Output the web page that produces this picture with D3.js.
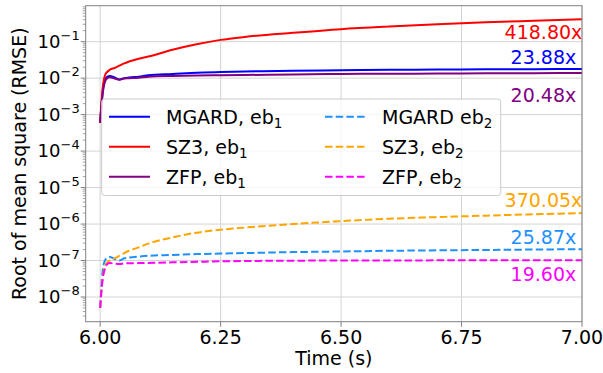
<!DOCTYPE html>
<html>
<head>
<meta charset="utf-8">
<script src="https://cdn.jsdelivr.net/npm/d3@7"></script>
<style>
body { margin: 0; background: #fff; }
svg { display: block; font-family: "DejaVu Sans", sans-serif; }
</style>
</head>
<body>
<div id="plot"></div>
<script>
// time axis (s)
var times = [6.0, 6.005, 6.01, 6.015, 6.02, 6.03, 6.04, 6.05, 6.06, 6.08, 6.1, 6.15, 6.2, 6.25, 6.3, 6.4, 6.5, 6.6, 6.7, 6.8, 6.9, 7.0];

// RMSE per series
var mgardEb1 = [6e-4, 4e-3, 9e-3, 1.1e-2, 1.15e-2, 1.05e-2, 9.2e-3, 1.0e-2, 1.05e-2, 1.1e-2, 1.2e-2, 1.3e-2, 1.4e-2, 1.48e-2, 1.52e-2, 1.6e-2, 1.65e-2, 1.69e-2, 1.72e-2, 1.74e-2, 1.76e-2, 1.78e-2];
var sz3Eb1 = [6e-4, 5e-3, 1.2e-2, 1.5e-2, 1.7e-2, 1.9e-2, 2.2e-2, 2.55e-2, 2.85e-2, 3.4e-2, 3.9e-2, 6.0e-2, 8.5e-2, 0.112, 0.135, 0.175, 0.22, 0.26, 0.3, 0.34, 0.375, 0.41];
var zfpEb1 = [6e-4, 3.5e-3, 8e-3, 1.0e-2, 1.05e-2, 9.8e-3, 9e-3, 9.8e-3, 1.0e-2, 1.03e-2, 1.1e-2, 1.15e-2, 1.18e-2, 1.2e-2, 1.22e-2, 1.26e-2, 1.3e-2, 1.32e-2, 1.34e-2, 1.36e-2, 1.37e-2, 1.39e-2];
var mgardEb2 = [5e-9, 5e-8, 1.0e-7, 1.2e-7, 1.25e-7, 1.1e-7, 1.0e-7, 1.15e-7, 1.2e-7, 1.28e-7, 1.35e-7, 1.42e-7, 1.5e-7, 1.55e-7, 1.6e-7, 1.7e-7, 1.77e-7, 1.85e-7, 1.9e-7, 1.95e-7, 2.0e-7, 2.05e-7];
var sz3Eb2 = [5e-9, 3e-8, 7e-8, 9e-8, 1.0e-7, 1.15e-7, 1.35e-7, 1.6e-7, 1.85e-7, 2.3e-7, 2.9e-7, 4.3e-7, 5.8e-7, 7.0e-7, 8.0e-7, 1.0e-6, 1.2e-6, 1.4e-6, 1.55e-6, 1.7e-6, 1.85e-6, 2.0e-6];
var zfpEb2 = [5e-9, 3e-8, 6e-8, 8e-8, 8.5e-8, 8.2e-8, 8e-8, 8.3e-8, 8.4e-8, 8.5e-8, 8.6e-8, 8.9e-8, 9.2e-8, 9.5e-8, 9.7e-8, 9.9e-8, 1.0e-7, 1.0e-7, 1.01e-7, 1.01e-7, 1.02e-7, 1.02e-7];

var seriesNames = ["MGARD", "SZ3", "ZFP", "MGARD", "SZ3", "ZFP"];
var seriesSep = [", ", ", ", ", ", " ", ", ", ", "];
var seriesSub = ["1", "1", "1", "2", "2", "2"];
var seriesColors = ["#0000ff", "#ff0000", "#800080", "#1e90ff", "#ffa500", "#ff00ff"];
var seriesValues = [mgardEb1, sz3Eb1, zfpEb1, mgardEb2, sz3Eb2, zfpEb2];

// compression ratio annotations
var ratioLabels = ["418.80x", "23.88x", "20.48x", "370.05x", "25.87x", "19.60x"];
var ratioColors = ["#ff0000", "#0000ff", "#800080", "#ffa500", "#1e90ff", "#ff00ff"];
var ratioX = [6.92, 6.92, 6.92, 6.92, 6.92, 6.92];
var ratioY = [0.185, 0.037, 0.0035, 4.6e-6, 4.3e-7, 4.1e-8];

var xTicks = [6.0, 6.25, 6.5, 6.75, 7.0];
var yTicks = [-8, -7, -6, -5, -4, -3, -2, -1];

var W = 603, H = 373;
var margin = {top: 5.7, right: 21, bottom: 51.3, left: 85.7};
var width = W - margin.left - margin.right,
    height = H - margin.top - margin.bottom;

var svg = d3.select("#plot").append("svg")
    .attr("width", W)
    .attr("height", H);

var g = svg.append("g")
    .attr("transform", "translate(" + margin.left + "," + margin.top + ")");

var x = d3.scaleLinear().domain([5.97, 7.0]).range([0, width]);
var y = d3.scaleLog().domain([Math.pow(10, -8.677), Math.pow(10, -0.014)]).range([height, 0]);

g.append("clipPath").attr("id", "clip")
    .append("rect").attr("width", width).attr("height", height);

// grid
g.selectAll(".gx").data(xTicks).enter().append("line")
    .attr("x1", d => x(d)).attr("x2", d => x(d))
    .attr("y1", 0).attr("y2", height)
    .style("stroke", "#d3d3d3").style("stroke-width", 1);
g.selectAll(".gy").data(yTicks).enter().append("line")
    .attr("x1", 0).attr("x2", width)
    .attr("y1", d => y(Math.pow(10, d))).attr("y2", d => y(Math.pow(10, d)))
    .style("stroke", "#d3d3d3").style("stroke-width", 1);

// curves
var line = d3.line()
    .x((d, i) => x(times[i]))
    .y(d => y(d))
    .curve(d3.curveMonotoneX);

var curves = g.append("g").attr("clip-path", "url(#clip)");
seriesValues.forEach(function(vals, i) {
    curves.append("path")
        .attr("d", line(vals))
        .style("fill", "none")
        .style("stroke", seriesColors[i])
        .style("stroke-width", 2)
        .style("stroke-dasharray", i >= 3 ? "7.5,3.2" : null)
        .style("stroke-linejoin", "round");
});

// annotations
g.selectAll(".ratio").data(ratioLabels).enter().append("text")
    .attr("x", (d, i) => x(ratioX[i]))
    .attr("y", (d, i) => y(ratioY[i]))
    .attr("dy", "0.36em")
    .style("text-anchor", "middle")
    .style("font-size", "19px")
    .style("fill", (d, i) => ratioColors[i])
    .text(d => d);

// legend
var legend = g.append("g").attr("transform", "translate(" + (101.7 - margin.left) + "," + (99 - margin.top) + ")");
legend.append("rect")
    .attr("width", 399).attr("height", 96.5)
    .attr("rx", 3).attr("ry", 3)
    .style("fill", "#ffffff").style("fill-opacity", 0.8)
    .style("stroke", "#cccccc").style("stroke-width", 1);
seriesNames.forEach(function(name, i) {
    var col = Math.floor(i / 3), row = i % 3;
    var lx = col === 0 ? 7.3 : 223.3;
    var ly = 17.7 + row * 30;
    legend.append("line")
        .attr("x1", lx).attr("x2", lx + 41)
        .attr("y1", ly).attr("y2", ly)
        .style("stroke", seriesColors[i])
        .style("stroke-width", 2)
        .style("stroke-dasharray", col === 1 ? "7.5,3.2" : null);
    var t = legend.append("text")
        .attr("x", lx + 57)
        .attr("y", ly + 7)
        .style("font-size", "19px")
        .style("fill", "#000");
    t.append("tspan").text(name + seriesSep[i] + "eb");
    t.append("tspan").attr("dy", 4).style("font-size", "13.5px").text(seriesSub[i]);
});

// frame
g.append("rect")
    .attr("width", width).attr("height", height)
    .style("fill", "none").style("stroke", "#808080").style("stroke-width", 1);

// x ticks
var xt = g.selectAll(".xt").data(xTicks).enter().append("g")
    .attr("transform", d => "translate(" + x(d) + "," + height + ")");
xt.append("line").attr("y2", 5).style("stroke", "#808080");
xt.append("text")
    .attr("y", 22)
    .style("text-anchor", "middle")
    .style("font-size", "19px")
    .text(d => d3.format(".2f")(d));

// y minor ticks
var minors = [];
for (var e = -9; e <= 0; e++) {
    for (var m = 2; m <= 9; m++) {
        var v = m * Math.pow(10, e);
        if (v >= y.domain()[0] && v <= y.domain()[1]) minors.push(v);
    }
}
g.selectAll(".ym").data(minors).enter().append("line")
    .attr("x1", -3).attr("x2", 0)
    .attr("y1", d => y(d)).attr("y2", d => y(d))
    .style("stroke", "#808080").style("stroke-width", 0.7);

// y major ticks
var yt = g.selectAll(".yt").data(yTicks).enter().append("g")
    .attr("transform", d => "translate(0," + y(Math.pow(10, d)) + ")");
yt.append("line").attr("x1", -5).attr("x2", 0).style("stroke", "#808080");
var ytxt = yt.append("text")
    .attr("x", -6)
    .attr("y", 6)
    .style("text-anchor", "end")
    .style("font-size", "18px");
ytxt.append("tspan").text("10");
ytxt.append("tspan").attr("dy", -8).style("font-size", "13px").text(d => "\u2212" + (-d));

// axis labels
svg.append("text")
    .attr("x", margin.left + width / 2)
    .attr("y", 365)
    .style("text-anchor", "middle")
    .style("font-size", "19px")
    .text("Time (s)");
svg.append("text")
    .attr("transform", "translate(26," + (margin.top + height / 2) + ") rotate(-90)")
    .style("text-anchor", "middle")
    .style("font-size", "19px")
    .text("Root of mean square (RMSE)");
</script>
</body>
</html>
